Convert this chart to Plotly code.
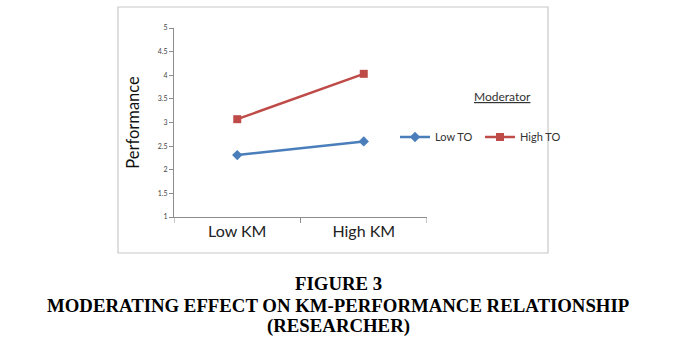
import plotly.graph_objects as go

# Interaction plot: performance at low / high KM for two TO levels
categories = ["Low KM", "High KM"]
low_to = [2.31, 2.60]
high_to = [3.07, 4.03]
y_ticks = [1, 1.5, 2, 2.5, 3, 3.5, 4, 4.5, 5]

W, H = 676, 344
L, R, T, B = 174, 427, 28, 217  # plot area in pixels


def px(x):
    return (x - L) / (R - L)


def py(y):
    return (B - y) / (B - T)


fig = go.Figure()
fig.add_trace(go.Scatter(
    x=[0.5, 1.5], y=low_to, name="Low TO", mode="lines+markers",
    line=dict(color="#4a7ebb", width=2.5),
    marker=dict(symbol="diamond", size=8, color="#4a7ebb"),
))
fig.add_trace(go.Scatter(
    x=[0.5, 1.5], y=high_to, name="High TO", mode="lines+markers",
    line=dict(color="#be4b48", width=2.5),
    marker=dict(symbol="square", size=8, color="#be4b48"),
))

axis_color = "#8c8c8c"
fig.update_xaxes(
    range=[0, 2], tickvals=[0.5, 1.5], ticktext=categories,
    showgrid=False, zeroline=False, showline=True, linecolor=axis_color, linewidth=1,
    ticks="", tickfont=dict(family="Lato", size=16, color="#222"),
)
fig.update_yaxes(
    range=[1, 5], tickvals=y_ticks, ticktext=[f"{v:g}" for v in y_ticks],
    showgrid=False, zeroline=False, showline=True, linecolor=axis_color, linewidth=1,
    ticks="outside", ticklen=4, tickcolor=axis_color,
    tickfont=dict(family="Lato", size=7, color="#444"),
    title=dict(text="Performance", font=dict(family="Lato", size=16.5, color="#111"), standoff=14),
)

shapes = [
    # chart frame
    dict(type="rect", xref="paper", yref="paper",
         x0=px(118), x1=px(548), y0=py(7), y1=py(253),
         line=dict(color="#c8c8c8", width=1.2), fillcolor="rgba(0,0,0,0)", layer="below"),
]
# x-axis category boundary ticks
for xv in [0, 1, 2]:
    shapes.append(dict(type="line", xref="x", yref="paper", x0=xv, x1=xv,
                       y0=0, y1=py(B + 6), line=dict(color=axis_color, width=1)))

title_font = dict(family="Liberation Serif", size=18.8, color="#000")
annotations = [
    dict(text="<u>Moderator</u>", xref="paper", yref="paper", x=px(502), y=py(96),
         showarrow=False, font=dict(family="Lato", size=12, color="#333"),
         xanchor="center", yanchor="middle"),
    dict(text="<b>FIGURE 3</b>", xref="paper", yref="paper", x=px(338), y=py(283),
         showarrow=False, font=title_font, xanchor="center", yanchor="middle"),
    dict(text="<b>MODERATING EFFECT ON KM-PERFORMANCE RELATIONSHIP</b>", xref="paper", yref="paper",
         x=px(338), y=py(305), showarrow=False, font=title_font,
         xanchor="center", yanchor="middle"),
    dict(text="<b>(RESEARCHER)</b>", xref="paper", yref="paper", x=px(338), y=py(326),
         showarrow=False, font=title_font, xanchor="center", yanchor="middle"),
]

fig.update_layout(
    width=W, height=H,
    margin=dict(l=L, r=W - R, t=T, b=H - B, autoexpand=False),
    paper_bgcolor="white", plot_bgcolor="white",
    shapes=shapes, annotations=annotations,
    legend=dict(orientation="h", x=px(395), y=py(137), xanchor="left", yanchor="middle",
                font=dict(family="Lato", size=11, color="#333"),
                itemwidth=30, entrywidth=40, entrywidthmode="pixels",
                tracegroupgap=0, bgcolor="rgba(0,0,0,0)"),
    showlegend=True,
)

fig.write_html("out.html")
